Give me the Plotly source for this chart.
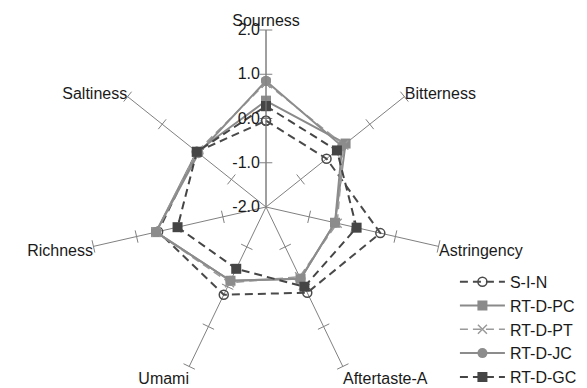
import plotly.graph_objects as go

# Taste attributes (clockwise from the top)
attributes = ["Sourness", "Bitterness", "Astringency", "Aftertaste-A",
              "Umami", "Richness", "Saltiness"]

# Taste sensor scores per sample
s_i_n = [-0.05, -0.25, 0.65, 0.15, 0.2, 0.5, 0.0]
rt_d_pc = [0.4, 0.3, -0.4, -0.2, -0.15, 0.55, 0.0]
rt_d_pt = [0.8, 0.25, -0.35, -0.25, -0.1, 0.55, 0.0]
rt_d_jc = [0.85, 0.2, -0.4, -0.2, -0.15, 0.55, -0.05]
rt_d_gc = [0.28, 0.05, 0.1, 0.0, -0.45, 0.05, 0.0]

radial_ticks = [-2, -1, 0, 1, 2]
radial_ticktext = ["-2.0", "-1.0", "0.0", "1.0", "2.0"]

DASH = "8px,5px"
series = [
    ("S-I-N", s_i_n, dict(color="#4a4a4a", dash=DASH, width=2),
     dict(symbol="circle-open", size=9, color="#4a4a4a", line=dict(width=1.5))),
    ("RT-D-PC", rt_d_pc, dict(color="#8a8a8a", dash="solid", width=2),
     dict(symbol="square", size=10, color="#8a8a8a")),
    ("RT-D-PT", rt_d_pt, dict(color="#9a9a9a", dash=DASH, width=1.5),
     dict(symbol="x-thin-open", size=9, color="#9a9a9a", line=dict(width=1.5, color="#9a9a9a"))),
    ("RT-D-JC", rt_d_jc, dict(color="#8c8c8c", dash="solid", width=2),
     dict(symbol="circle", size=10, color="#8c8c8c")),
    ("RT-D-GC", rt_d_gc, dict(color="#454545", dash=DASH, width=2),
     dict(symbol="square", size=10, color="#454545")),
]

fig = go.Figure()

# Tick marks along every spoke
n = len(attributes)
tick_theta, tick_r, tick_angle = [], [], []
for i, name in enumerate(attributes):
    for v in radial_ticks[1:]:
        tick_theta.append(name)
        tick_r.append(v)
        tick_angle.append(i * 360.0 / n)
fig.add_trace(go.Scatterpolar(
    r=tick_r, theta=tick_theta, mode="markers",
    marker=dict(symbol="line-ew", size=9, angle=tick_angle,
                line=dict(color="#808080", width=1)),
    showlegend=False, hoverinfo="skip"))

for name, vals, line, marker in series:
    fig.add_trace(go.Scatterpolar(
        r=vals + vals[:1], theta=attributes + attributes[:1],
        mode="lines+markers", name=name, line=line, marker=marker))

fig.update_layout(
    width=587, height=388,
    margin=dict(l=0, r=0, t=0, b=0, autoexpand=False),
    paper_bgcolor="white",
    font=dict(family="Liberation Sans, Arial, sans-serif", size=16, color="#1a1a1a"),
    polar=dict(
        domain=dict(x=[89 / 587, 443 / 587], y=[4 / 388, 358 / 388]),
        bgcolor="white",
        angularaxis=dict(
            categoryorder="array", categoryarray=attributes,
            rotation=90, direction="clockwise",
            showline=False, showgrid=True, gridcolor="#808080", gridwidth=1,
            ticks="", tickfont=dict(size=16, color="#1a1a1a")),
        radialaxis=dict(
            range=[-2, 2], tickvals=radial_ticks, ticktext=radial_ticktext,
            angle=90, tickangle=90, side="counterclockwise",
            showgrid=False, showline=True, linecolor="#808080", linewidth=1,
            ticks="", tickfont=dict(size=16, color="#1a1a1a")),
    ),
    legend=dict(
        x=0.775, y=-0.015, xanchor="left", yanchor="bottom",
        font=dict(size=16, color="#1a1a1a"),
        itemwidth=45, bgcolor="rgba(0,0,0,0)"),
    showlegend=True,
)

fig.write_html("out.html")
